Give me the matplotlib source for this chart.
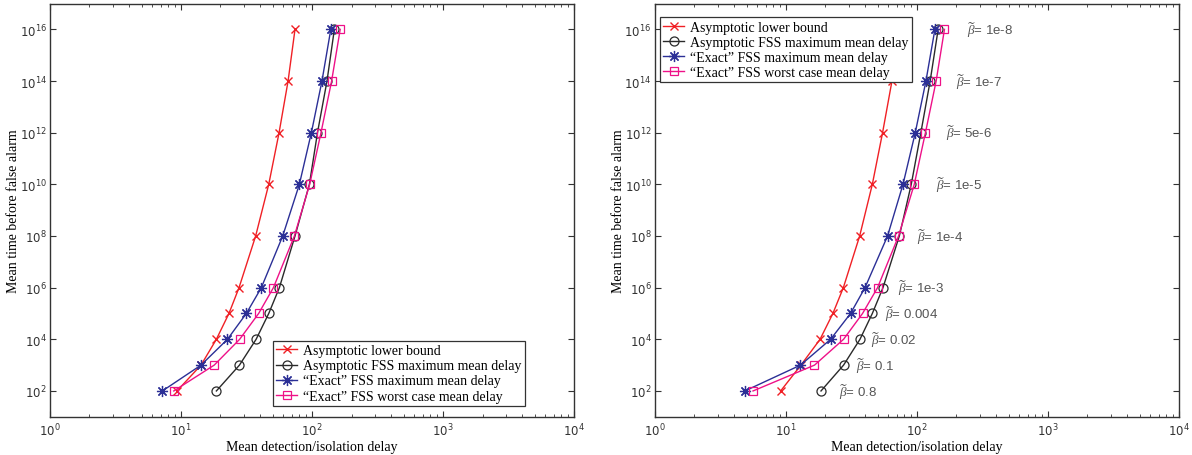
import numpy as np
import matplotlib
matplotlib.use("Agg")
import matplotlib.pyplot as plt

plt.rcParams["mathtext.fontset"] = "custom"
plt.rcParams["mathtext.rm"] = "Liberation Sans"
plt.rcParams["mathtext.it"] = "Liberation Serif:italic"
plt.rcParams["mathtext.bf"] = "Liberation Sans:bold"

# Mean time before false alarm (common to every curve)
false_alarm = [1e2, 1e3, 1e4, 1e5, 1e6, 1e8, 1e10, 1e12, 1e14, 1e16]

# Left panel: mean detection/isolation delay
left_lower_bound = [9.3, 14.2, 18.6, 23.2, 27.7, 37.1, 46.7, 56.0, 65.6, 74.1]
left_asym_fss = [18.6, 27.9, 37.4, 46.7, 56.3, 74.1, 95.4, 110, 130, 148]
left_exact_max = [7.2, 14.2, 22.6, 31.5, 41.0, 59.7, 80.0, 98.8, 119, 139]
left_exact_worst = [8.8, 17.9, 28.0, 39.1, 50.7, 73.3, 95.9, 117, 141, 164]

# Right panel
right_lower_bound = [9.1, 13.0, 18.2, 22.8, 27.4, 36.5, 45.6, 54.6, 64.4, 73.3]
right_asym_fss = [18.5, 27.5, 36.7, 45.6, 55.0, 73.3, 90.4, 107, 126, 145]
right_exact_max = [4.85, 12.9, 21.9, 31.1, 40.1, 59.6, 78.2, 97, 117, 137]
right_exact_worst = [5.6, 16.5, 27.5, 38.4, 50.0, 72.3, 95.3, 116, 140, 162]

# beta tilde annotations (right panel)
beta_labels = ["0.8", "0.1", "0.02", "0.004", "1e-3", "1e-4", "1e-5", "5e-6", "1e-7", "1e-8"]
beta_x = [25.5, 34.3, 44.7, 57, 72, 100, 140, 167, 200, 242]

labels = ["Asymptotic lower bound",
          "Asymptotic FSS maximum mean delay",
          "\u201cExact\u201d FSS maximum mean delay",
          "\u201cExact\u201d FSS worst case mean delay"]

serif = "Liberation Serif"
fs = 10

styles = [
    dict(color="#f02025", marker="x", ms=5.5, mew=1.0),
    dict(color="#2a2a2a", marker="o", ms=6.5, mfc="none", mew=0.9),
    dict(color="#2b2f96", marker=(8, 2, 0), ms=8, mew=0.9),
    dict(color="#ee1188", marker="s", ms=5.5, mfc="none", mew=0.9),
]

fig = plt.figure(figsize=(11.92, 4.56), dpi=100)
ax1 = fig.add_axes([0.0420, 0.0838, 0.4396, 0.9063])
ax2 = fig.add_axes([0.5495, 0.0838, 0.4396, 0.9063])


def setup(ax):
    ax.set_xscale("log")
    ax.set_yscale("log")
    ax.set_xlim(1, 1e4)
    ax.set_ylim(1e1, 1e17)
    ax.set_yticks([10.0 ** k for k in range(2, 17, 2)])
    ax.yaxis.set_minor_locator(matplotlib.ticker.NullLocator())
    ax.tick_params(which="both", direction="in", top=True, right=True,
                   labelsize=8.5, labelcolor="#333333", color="#333333")
    ax.tick_params(which="major", length=4, width=0.8)
    ax.tick_params(which="minor", length=2.2, width=0.6)
    ax.tick_params(axis="y", pad=2.5)
    for s in ax.spines.values():
        s.set_linewidth(1.0)
        s.set_color("#333333")
    ax.set_xlabel("Mean detection/isolation delay", fontfamily=serif,
                  fontsize=fs, labelpad=1)
    ax.set_ylabel("Mean time before false alarm", fontfamily=serif,
                  fontsize=fs)
    ax.yaxis.set_label_coords(-0.057, 0.5)


for ax, data in [(ax1, [left_lower_bound, left_asym_fss, left_exact_max, left_exact_worst]),
                 (ax2, [right_lower_bound, right_asym_fss, right_exact_max, right_exact_worst])]:
    setup(ax)
    for xs, st, lab in zip(data, styles, labels):
        ax.plot(xs, false_alarm, lw=1.0, label=lab, **st)

leg_kw = dict(prop={"family": serif, "size": fs}, fancybox=False,
              framealpha=1, edgecolor="#333333", borderaxespad=0,
              labelspacing=0.15, handlelength=1.5, handletextpad=0.4,
              borderpad=0.25)
l1 = ax1.legend(loc="lower right", bbox_to_anchor=(0.906, 0.026), **leg_kw)
l2 = ax2.legend(loc="upper left", bbox_to_anchor=(0.0095, 0.967), **leg_kw)
for l in (l1, l2):
    l.get_frame().set_linewidth(0.9)

for bx, by, bl in zip(beta_x, false_alarm, beta_labels):
    ax2.text(bx, by, r"$\widetilde{\beta}$= " + bl, fontsize=9.5,
             fontfamily="Liberation Sans", color="#555555",
             va="center", ha="left")

fig.savefig("out.png", dpi=100)
